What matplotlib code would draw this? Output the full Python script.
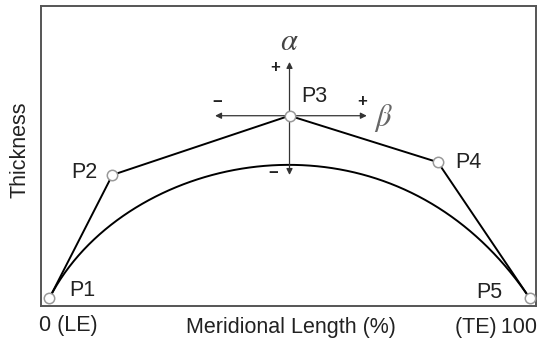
import numpy as np
import matplotlib
matplotlib.use("Agg")
import matplotlib.pyplot as plt
from math import comb

plt.rcParams['font.family'] = ['Liberation Sans', 'DejaVu Sans']
plt.rcParams['mathtext.fontset'] = 'stix'

# control points (meridional length %, relative thickness)
labels = ['P1', 'P2', 'P3', 'P4', 'P5']
ctrl_x = [0.0, 13.1, 50.0, 80.9, 100.0]
ctrl_y = [0.0, 0.675, 1.0, 0.745, 0.0]

# label offsets in pixels (dx, dy, ha)
lab_off = [(20, 7, 'left'), (-15, 2, 'right'), (12, 19, 'left'),
           (17, 0, 'left'), (-27, 5, 'right')]

# bezier curve through the control points
n = len(ctrl_x) - 1
t = np.linspace(0, 1, 300)
bx = sum(comb(n, i) * t**i * (1 - t)**(n - i) * ctrl_x[i] for i in range(n + 1))
by = sum(comb(n, i) * t**i * (1 - t)**(n - i) * ctrl_y[i] for i in range(n + 1))

fig = plt.figure(figsize=(5.44, 3.44), dpi=100)
ax = fig.add_axes([41 / 544, 38 / 344, 495 / 544, 300 / 344])
ax.set_xlim(-1.77, 101.35)
ax.set_ylim(-0.044, 1.602)

ax.plot(ctrl_x, ctrl_y, color='black', lw=1.4, zorder=2)
ax.plot(bx, by, color='black', lw=1.4, zorder=2)
ax.plot(ctrl_x, ctrl_y, 'o', ms=7.5, mfc='white', mec='#999999', mew=1.1,
        zorder=4, clip_on=False)

for lab, x, y, (dx, dy, ha) in zip(labels, ctrl_x, ctrl_y, lab_off):
    ax.annotate(lab, (x, y), xytext=(dx, dy), textcoords='offset pixels',
                ha=ha, va='center', fontsize=15.5, color='#222222')

# design variable arrows at P3
px, py = ctrl_x[2], ctrl_y[2]
arr = dict(arrowstyle='-|>', color='#333333', lw=0.9, mutation_scale=9,
           shrinkA=0, shrinkB=0)
for dx, dy in [(-15.5, 0), (16.1, 0), (0, 0.295), (0, -0.325)]:
    ax.annotate('', xy=(px + dx, py + dy), xytext=(px, py), arrowprops=arr,
                zorder=3)

ax.annotate(r'$\alpha$', (px, py), xytext=(0, 74), textcoords='offset pixels',
            ha='center', va='center', fontsize=22, color='#444444')
ax.annotate(r'$\beta$', (px, py), xytext=(94, -2), textcoords='offset pixels',
            ha='center', va='center', fontsize=22, color='#666666')
signs = [('+', -14, 48), ('−', -72, 13), ('+', 73, 14), ('−', -16, -58)]
for s, dx, dy in signs:
    ax.annotate(s, (px, py), xytext=(dx, dy), textcoords='offset pixels',
                ha='center', va='center', fontsize=12, fontweight='bold',
                color='#222222')

for sp in ax.spines.values():
    sp.set_color('#555555')
    sp.set_linewidth(1.4)
ax.set_xticks([])
ax.set_yticks([])

fig.text(68 / 544, 1 - 326 / 344, '0 (LE)', ha='center', va='center',
         fontsize=15.5, color='#222222')
fig.text(496 / 544, 1 - 327 / 344, '(TE)\u2009100', ha='center', va='center',
         fontsize=15.5, color='#222222')
fig.text(291 / 544, 1 - 327 / 344, 'Meridional Length (%)', ha='center',
         va='center', fontsize=15.5, color='#222222')
fig.text(20 / 544, 1 - 150 / 344, 'Thickness', ha='center', va='center',
         rotation=90, fontsize=15.5, color='#222222')

fig.savefig('out.png', dpi=100)
